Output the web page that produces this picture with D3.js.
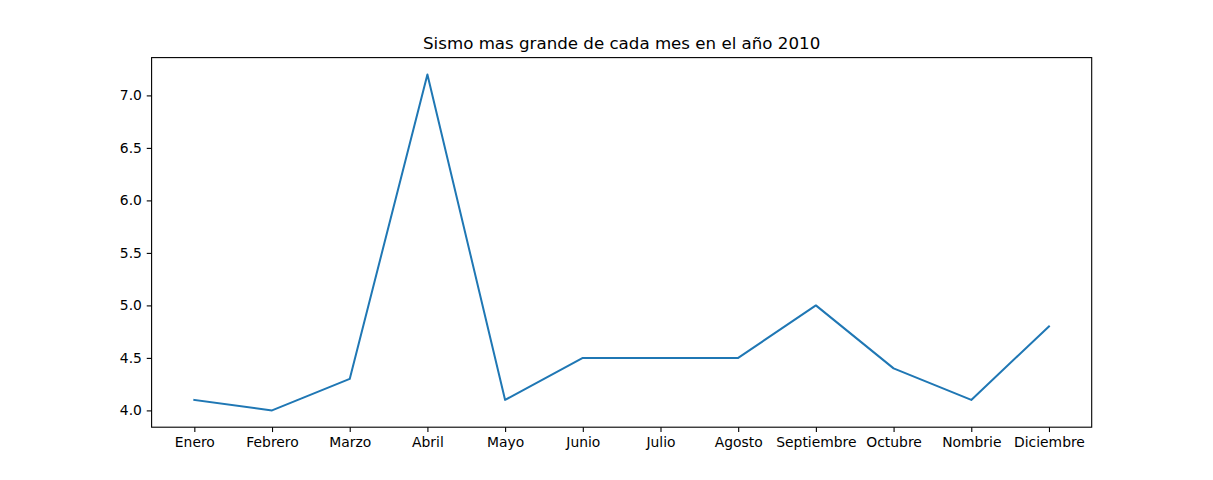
<!DOCTYPE html>
<html>
<head>
<meta charset="utf-8">
<script src="https://cdn.jsdelivr.net/npm/d3@7"></script>
<style>
  body { margin: 0; background: #fff; }
  text { font-family: "DejaVu Sans", sans-serif; fill: #000; }
</style>
</head>
<body>
<div id="chart"></div>
<script>
const months = ["Enero", "Febrero", "Marzo", "Abril", "Mayo", "Junio", "Julio",
    "Agosto", "Septiembre", "Octubre", "Nombrie", "Diciembre"];
const magnitudes = [4.1, 4.0, 4.3, 7.2, 4.1, 4.5, 4.5, 4.5, 5.0, 4.4, 4.1, 4.8];
const yTicks = [4.0, 4.5, 5.0, 5.5, 6.0, 6.5, 7.0];
const title = "Sismo mas grande de cada mes en el año 2010";

const width = 1213;
const height = 480;
const plotLeft = 151.6, plotRight = 1091.7, plotTop = 57.6, plotBottom = 427.2;

const svg = d3.select("#chart").append("svg")
    .attr("width", width)
    .attr("height", height);

const n = months.length;
const x = d3.scaleLinear()
    .domain([-0.55, n - 1 + 0.55])
    .range([plotLeft, plotRight]);

const yMin = d3.min(magnitudes), yMax = d3.max(magnitudes);
const pad = (yMax - yMin) * 0.05;
const y = d3.scaleLinear()
    .domain([yMin - pad, yMax + pad])
    .range([plotBottom, plotTop]);

// x axis
const xAxis = d3.axisBottom(x)
    .tickValues(d3.range(n))
    .tickFormat(i => months[i])
    .tickSize(4.86)
    .tickPadding(4.86);

const gx = svg.append("g")
    .attr("transform", `translate(0,${plotBottom})`)
    .call(xAxis);
gx.select(".domain").remove();
gx.selectAll("line").attr("stroke", "#000").attr("stroke-width", 1.1);
gx.selectAll("text")
    .attr("font-size", "13.89px")
    .attr("font-family", "DejaVu Sans, sans-serif")
    .attr("dy", "0.76em");

// y axis
const yAxis = d3.axisLeft(y)
    .tickValues(yTicks)
    .tickFormat(d3.format(".1f"))
    .tickSize(4.86)
    .tickPadding(4.86);

const gy = svg.append("g")
    .attr("transform", `translate(${plotLeft},0)`)
    .call(yAxis);
gy.select(".domain").remove();
gy.selectAll("line").attr("stroke", "#000").attr("stroke-width", 1.1);
gy.selectAll("text")
    .attr("font-size", "13.89px")
    .attr("font-family", "DejaVu Sans, sans-serif");

// line
const line = d3.line()
    .x((d, i) => x(i))
    .y(d => y(d));

svg.append("path")
    .datum(magnitudes)
    .attr("fill", "none")
    .attr("stroke", "#1f77b4")
    .attr("stroke-width", 2)
    .attr("stroke-linejoin", "round")
    .attr("stroke-linecap", "square")
    .attr("d", line);

// frame
svg.append("rect")
    .attr("x", plotLeft)
    .attr("y", plotTop)
    .attr("width", plotRight - plotLeft)
    .attr("height", plotBottom - plotTop)
    .attr("fill", "none")
    .attr("stroke", "#000")
    .attr("stroke-width", 1.1);

// title
svg.append("text")
    .attr("x", (plotLeft + plotRight) / 2)
    .attr("y", plotTop - 8.3)
    .attr("text-anchor", "middle")
    .attr("font-size", "16.67px")
    .text(title);
</script>
</body>
</html>
